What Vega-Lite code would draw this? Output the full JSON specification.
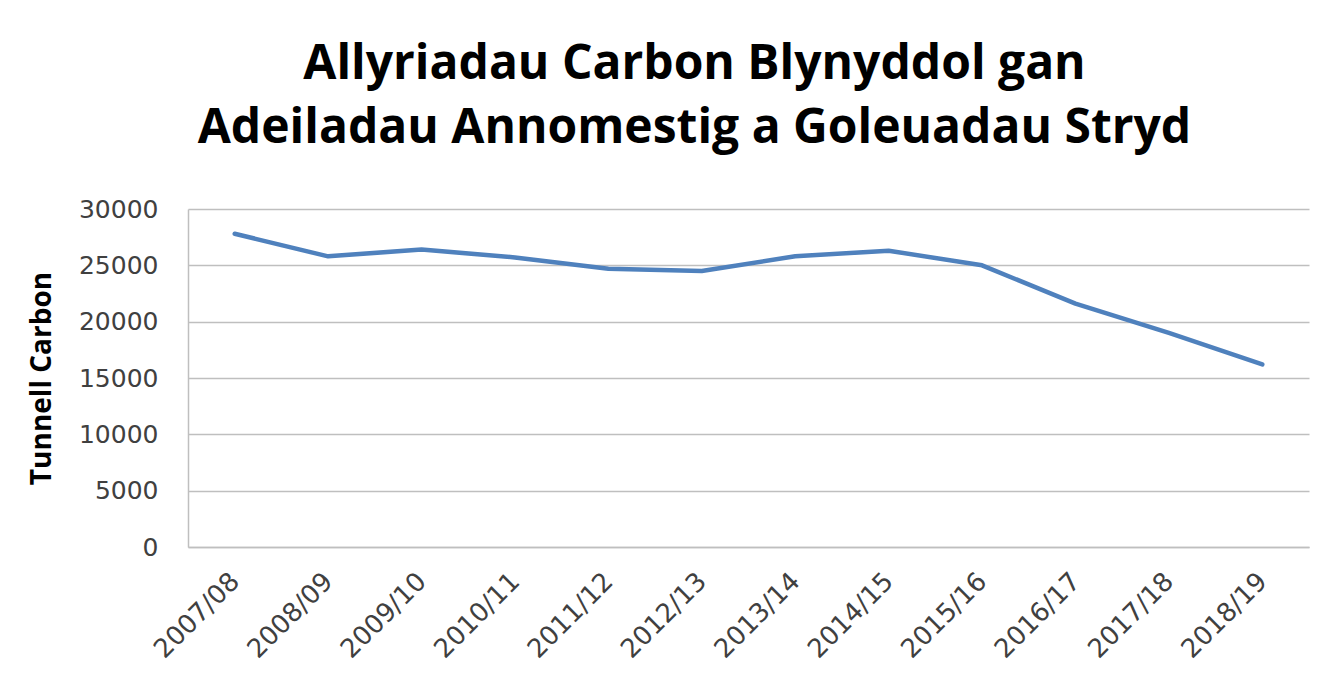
{
  "$schema": "https://vega.github.io/schema/vega-lite/v6.json",
  "autosize": {"type": "none"},
  "width": 1121,
  "height": 338,
  "padding": {"left": 188, "top": 209, "right": 16, "bottom": 135},
  "background": "white",
  "title": {
    "text": ["Allyriadau Carbon Blynyddol gan", "Adeiladau Annomestig a Goleuadau Stryd"],
    "font": "Open Sans",
    "fontSize": 48,
    "fontWeight": "bold",
    "color": "#000000",
    "anchor": "middle",
    "dx": -54,
    "lineHeight": 64,
    "offset": 44
  },
  "data": {
    "values": [
      {"year": "2007/08", "carbon": 27800},
      {"year": "2008/09", "carbon": 25800},
      {"year": "2009/10", "carbon": 26400},
      {"year": "2010/11", "carbon": 25700},
      {"year": "2011/12", "carbon": 24700},
      {"year": "2012/13", "carbon": 24500},
      {"year": "2013/14", "carbon": 25800},
      {"year": "2014/15", "carbon": 26300},
      {"year": "2015/16", "carbon": 25000},
      {"year": "2016/17", "carbon": 21600},
      {"year": "2017/18", "carbon": 19000},
      {"year": "2018/19", "carbon": 16200}
    ]
  },
  "mark": {"type": "line", "color": "#4F81BD", "strokeWidth": 4.5, "strokeCap": "round", "strokeJoin": "round"},
  "encoding": {
    "x": {
      "field": "year",
      "type": "ordinal",
      "sort": null,
      "scale": {"paddingInner": 0, "paddingOuter": 0.5},
      "axis": {
        "title": null,
        "labelAngle": -45,
        "labelAlign": "right",
        "labelBaseline": "middle",
        "labelFont": "DejaVu Sans",
        "labelFontSize": 26,
        "labelColor": "#404040",
        "labelPadding": 30,
        "ticks": false,
        "grid": false,
        "domainColor": "#BFBFBF",
        "domainWidth": 1.5
      }
    },
    "y": {
      "field": "carbon",
      "type": "quantitative",
      "scale": {"domain": [0, 30000], "nice": false},
      "axis": {
        "title": "Tunnell Carbon",
        "titleFont": "Open Sans",
        "titleFontSize": 28,
        "titleFontWeight": "bold",
        "titleColor": "#000000",
        "titlePadding": 22,
        "values": [0, 5000, 10000, 15000, 20000, 25000, 30000],
        "format": "d",
        "labelFont": "DejaVu Sans",
        "labelFontSize": 25,
        "labelColor": "#404040",
        "labelPadding": 30,
        "ticks": false,
        "grid": true,
        "gridColor": "#BFBFBF",
        "gridWidth": 1.5,
        "domain": true,
        "domainColor": "#BFBFBF",
        "domainWidth": 1.5
      }
    }
  },
  "config": {"view": {"stroke": null}}
}
